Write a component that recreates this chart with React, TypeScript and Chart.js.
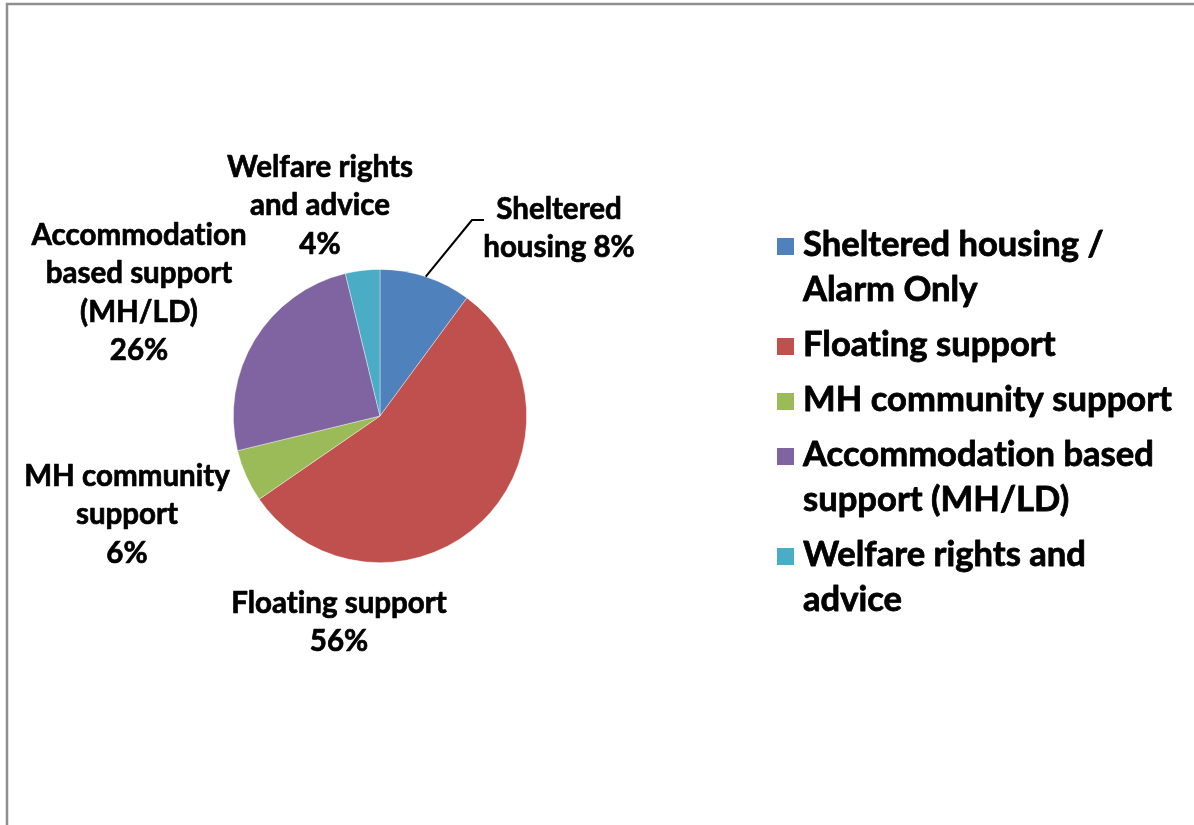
import React, { useEffect, useRef } from "react";
import { Chart, registerables } from "chart.js";

Chart.register(...registerables);

const categories = [
  "Sheltered housing / Alarm Only",
  "Floating support",
  "MH community support",
  "Accommodation based support (MH/LD)",
  "Welfare rights and advice",
];
const values = [10.1, 55.3, 5.8, 25.0, 3.8];
const percentLabels = ["8%", "56%", "6%", "26%", "4%"];
const colors = ["#4F81BD", "#C0504D", "#9BBB59", "#8064A2", "#4BACC6"];

// data-label text lines (as in the reference)
const dataLabelLines = [
  ["Sheltered", "housing " + percentLabels[0]],
  ["Floating support", percentLabels[1]],
  ["MH community", "support", percentLabels[2]],
  ["Accommodation", "based support", "(MH/LD)", percentLabels[3]],
  ["Welfare rights", "and advice", percentLabels[4]],
];
// legend text lines
const legendLines = [
  ["Sheltered housing /", "Alarm Only"],
  ["Floating support"],
  ["MH community support"],
  ["Accommodation based", "support (MH/LD)"],
  ["Welfare rights and", "advice"],
];

// layout (positions of text blocks)
const LABEL_POS = [
  { x: 559, y: 209 },
  { x: 339, y: 603 },
  { x: 127, y: 476 },
  { x: 139, y: 235 },
  { x: 320, y: 167 },
];
const LABEL_LH = 38.5;
const LEGEND_X = 777;
const LEGEND_Y0 = 246;
const LEGEND_LH = 45;
const LEGEND_GAP = 55;
const FONT = "Lato, 'Open Sans', sans-serif";

function fitSize(ctx: CanvasRenderingContext2D, text: string, target: number) {
  ctx.font = `bold 100px ${FONT}`;
  const w = ctx.measureText(text).width;
  return (100 * target) / w;
}

function boldText(ctx: CanvasRenderingContext2D, t: string, x: number, y: number) {
  ctx.fillText(t, x, y);
  ctx.strokeText(t, x, y);
}

const overlayPlugin = {
  id: "overlay",
  afterDraw(chart: any) {
    const ctx: CanvasRenderingContext2D = chart.ctx;
    ctx.save();
    // frame
    ctx.strokeStyle = "#8f8f8f";
    ctx.lineWidth = 2.5;
    ctx.strokeRect(7, 4, 1300, 1000);

    (ctx as any).letterSpacing = "0.01px";
    ctx.lineJoin = "round";

    // data labels
    const labelSize = fitSize(ctx, "Welfare rights", 186);
    ctx.font = `bold ${labelSize}px ${FONT}`;
    ctx.fillStyle = "#000";
    ctx.strokeStyle = "#000";
    ctx.lineWidth = 0.7;
    ctx.textAlign = "center";
    ctx.textBaseline = "middle";
    dataLabelLines.forEach((lines, i) => {
      const p = LABEL_POS[i];
      lines.forEach((ln, j) => boldText(ctx, ln, p.x, p.y + j * LABEL_LH));
    });

    // leader line for first slice
    const arc = chart.getDatasetMeta(0).data[0];
    if (arc) {
      const mid = (arc.startAngle + arc.endAngle) / 2;
      const sx = arc.x + Math.cos(mid) * arc.outerRadius;
      const sy = arc.y + Math.sin(mid) * arc.outerRadius;
      ctx.strokeStyle = "#000";
      ctx.lineWidth = 2;
      ctx.beginPath();
      ctx.moveTo(sx, sy);
      ctx.lineTo(472, 220);
      ctx.lineTo(484, 220);
      ctx.stroke();
    }

    // legend
    const legendSize = fitSize(ctx, "MH community support", 369);
    ctx.font = `bold ${legendSize}px ${FONT}`;
    ctx.textAlign = "left";
    ctx.lineWidth = 0.8;
    let y = LEGEND_Y0;
    legendLines.forEach((lines, i) => {
      ctx.fillStyle = colors[i];
      ctx.fillRect(LEGEND_X, y - 8, 17, 17);
      ctx.fillStyle = "#000";
      lines.forEach((ln, j) => boldText(ctx, ln, LEGEND_X + 26, y - 1 + j * LEGEND_LH));
      y += (lines.length - 1) * LEGEND_LH + LEGEND_GAP;
    });
    ctx.restore();
  },
};

export default function App() {
  const ref = useRef<HTMLCanvasElement>(null);
  useEffect(() => {
    if (!ref.current) return;
    const chart = new Chart(ref.current, {
      type: "pie",
      data: {
        labels: categories,
        datasets: [
          {
            data: values,
            backgroundColor: colors,
            borderColor: "rgba(255,255,255,0.5)",
            borderWidth: 0.75,
            hoverOffset: 0,
            offset: 0,
          },
        ],
      },
      options: {
        responsive: false,
        animation: false,
        devicePixelRatio: 1,
        layout: { padding: { left: 233, right: 667, top: 269, bottom: 262 } },
        plugins: { legend: { display: false }, tooltip: { enabled: false } },
        events: [],
      },
      plugins: [overlayPlugin],
    });
    return () => chart.destroy();
  }, []);
  return (
    <div style={{ position: "fixed", left: 0, top: 0, width: 1194, height: 825, background: "#fff" }}>
      <canvas ref={ref} width={1194} height={825} style={{ width: 1194, height: 825 }} />
    </div>
  );
}
